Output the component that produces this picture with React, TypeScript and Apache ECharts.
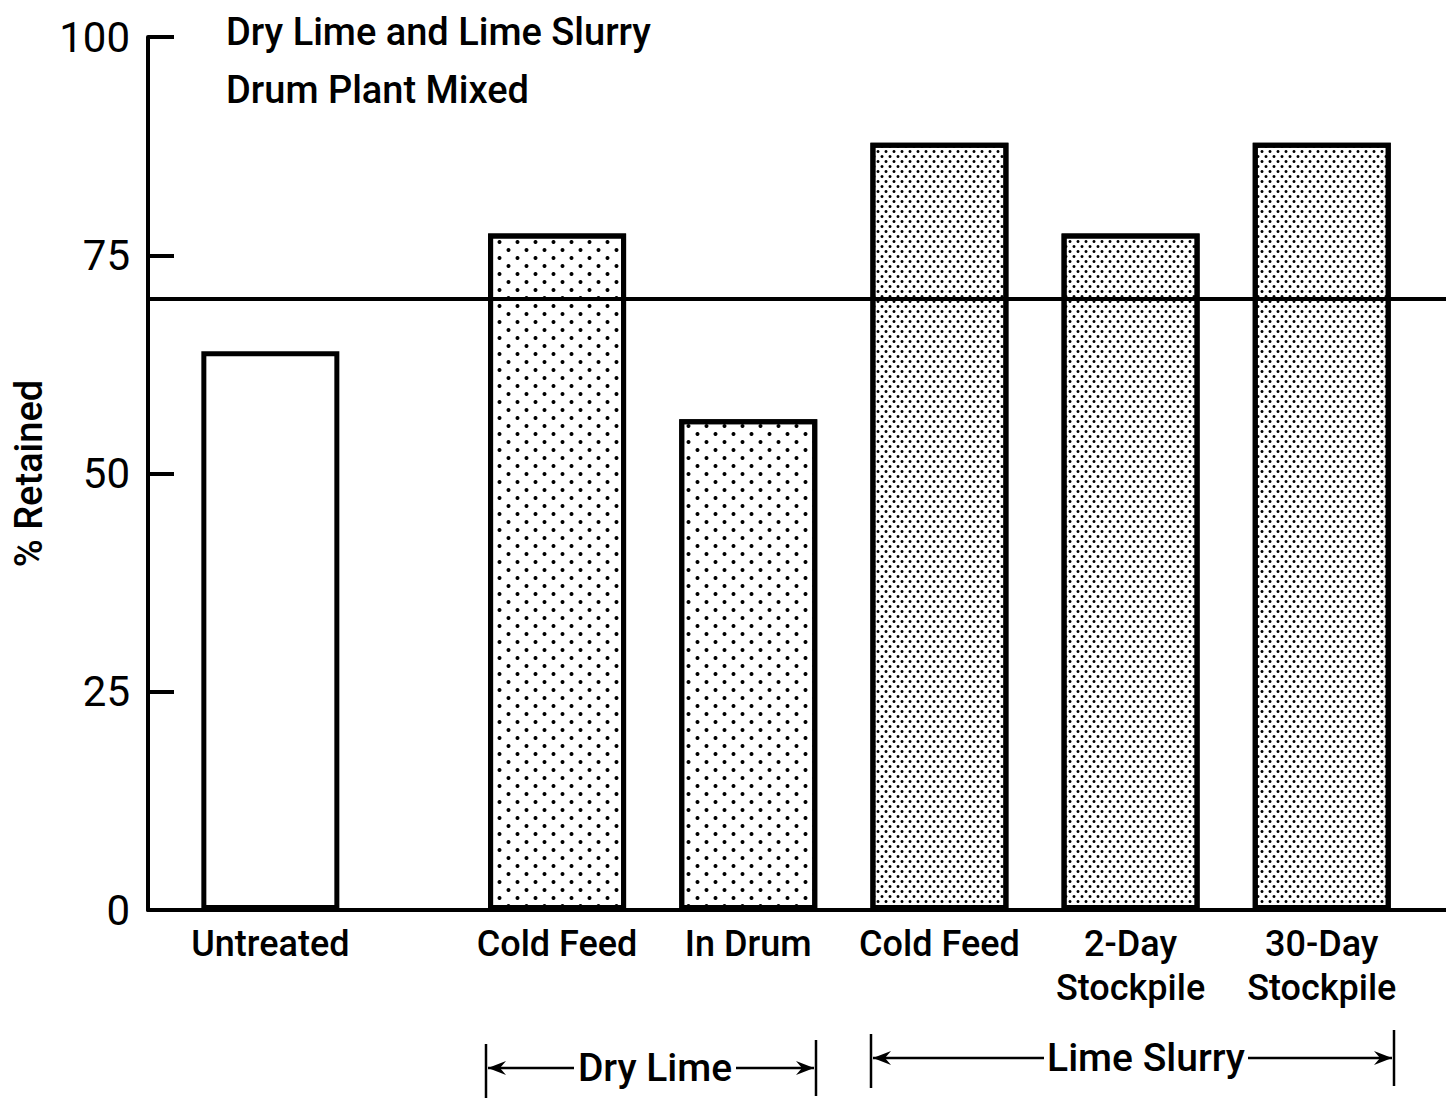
import React, { useEffect, useRef } from "react";
import * as echarts from "echarts";

// ---- data ----
const categories = ["Untreated", "Cold Feed", "In Drum", "Cold Feed", "2-Day\nStockpile", "30-Day\nStockpile"];
const barPositions = [0, 1.5, 2.5, 3.5, 4.5, 5.5];
const retained = [64, 77.5, 56.2, 87.9, 77.5, 87.9];
const treatment = ["Untreated", "Dry Lime", "Dry Lime", "Lime Slurry", "Lime Slurry", "Lime Slurry"];
const referenceLevel = 70;
const yTicks = [0, 25, 50, 75, 100];
const titleLines = ["Dry Lime and Lime Slurry", "Drum Plant Mixed"];
const yAxisTitle = "% Retained";
const groupLabels = ["Dry Lime", "Lime Slurry"];

const FONT = "Roboto, 'DejaVu Sans', sans-serif";

const decals: Record<string, any> = {
  Untreated: null,
  "Dry Lime": {
    symbol: "circle",
    symbolSize: 1,
    color: "#000",
    dashArrayX: [[8.3, 8.3], [0, 8.3, 8.3, 0]],
    dashArrayY: [4, 4],
  },
  "Lime Slurry": {
    symbol: "circle",
    symbolSize: 1,
    color: "#000",
    dashArrayX: [[3.5, 3.5], [0, 3.5, 3.5, 0]],
    dashArrayY: [2.2, 1.8],
  },
};

function buildSeries() {
  const groups = ["Untreated", "Dry Lime", "Lime Slurry"];
  return groups.map((g, gi) => {
    const data: any[] = [];
    categories.forEach((c, i) => {
      if (treatment[i] === g) {
        data.push({ value: [barPositions[i], retained[i]], name: c });
      }
    });
    const s: any = {
      type: "bar",
      name: g,
      data,
      barWidth: 138,
      barGap: "-100%",
      itemStyle: {
        color: "#fff",
        borderColor: "#000",
        borderWidth: 5,
        ...(decals[g] ? { decal: decals[g] } : {}),
      },
      label: {
        show: true,
        position: "bottom",
        distance: 12,
        formatter: (p: any) => p.name,
        color: "#000",
        fontFamily: FONT,
        fontSize: 36,
        fontWeight: 500,
        lineHeight: 44,
        align: "center",
      },
    };
    if (gi === groups.length - 1) {
      s.markLine = {
        silent: true,
        symbol: "none",
        label: { show: false },
        lineStyle: { color: "#000", width: 4, type: "solid" },
        data: [{ yAxis: referenceLevel }],
      };
    }
    return s;
  });
}

function bracket(x1: number, x2: number, y: number, text: string, textX: number, halfW: number) {
  const els: any[] = [];
  const ls = { stroke: "#000", lineWidth: 2.5 };
  els.push({ type: "line", shape: { x1, y1: y - 24, x2: x1, y2: y + 30 }, style: ls });
  els.push({ type: "line", shape: { x1: x2, y1: y - 28, x2: x2, y2: y + 28 }, style: ls });
  els.push({ type: "line", shape: { x1: x1 + 2, y1: y, x2: textX - halfW - 3, y2: y }, style: ls });
  els.push({ type: "line", shape: { x1: textX + halfW + 3, y1: y, x2: x2 - 2, y2: y }, style: ls });
  els.push({
    type: "polygon",
    shape: { points: [[x1 + 2, y], [x1 + 20, y - 7], [x1 + 14, y], [x1 + 20, y + 7]] },
    style: { fill: "#000" },
  });
  els.push({
    type: "polygon",
    shape: { points: [[x2 - 2, y], [x2 - 20, y - 7], [x2 - 14, y], [x2 - 20, y + 7]] },
    style: { fill: "#000" },
  });
  els.push({
    type: "text",
    x: textX,
    y,
    style: {
      text,
      fill: "#000",
      font: `500 39px ${FONT}`,
      align: "center",
      verticalAlign: "middle",
    },
  });
  return els;
}

export default function App() {
  const ref = useRef<HTMLDivElement>(null);
  useEffect(() => {
    document.body.style.margin = "0";
    const chart = echarts.init(ref.current!, null, { renderer: "svg" });
    const option: any = {
      animation: false,
      backgroundColor: "#fff",
      grid: { left: 148, right: 0, top: 37, bottom: 197 },
      title: titleLines.map((t, i) => ({
        text: t,
        left: 221,
        top: 8 + i * 58,
        textStyle: { fontFamily: FONT, fontSize: 38, fontWeight: 500, color: "#000" },
      })),
      xAxis: {
        type: "value",
        min: -0.64,
        max: 6.15,
        axisLine: { show: true, onZero: false, lineStyle: { color: "#000", width: 4 } },
        axisTick: { show: false },
        axisLabel: { show: false },
        splitLine: { show: false },
      },
      yAxis: {
        type: "value",
        min: yTicks[0],
        max: yTicks[yTicks.length - 1],
        interval: 25,
        name: yAxisTitle,
        nameLocation: "middle",
        nameGap: 98,
        nameTextStyle: { fontFamily: FONT, fontSize: 38, fontWeight: 500, color: "#000" },
        axisLine: { show: true, onZero: false, lineStyle: { color: "#000", width: 4 } },
        axisTick: { show: true, inside: true, length: 26, lineStyle: { color: "#000", width: 4 } },
        axisLabel: {
          margin: 18,
          fontFamily: FONT,
          fontSize: 42,
          color: "#000",
          formatter: (v: number) => String(v),
        },
        splitLine: { show: false },
      },
      series: buildSeries(),
      graphic: [
        ...bracket(486, 816, 1068, groupLabels[0], 655, 78),
        ...bracket(871, 1394, 1058, groupLabels[1], 1146, 99),
      ],
    };
    chart.setOption(option);
    return () => chart.dispose();
  }, []);
  return <div ref={ref} style={{ width: 1446, height: 1107 }} />;
}
